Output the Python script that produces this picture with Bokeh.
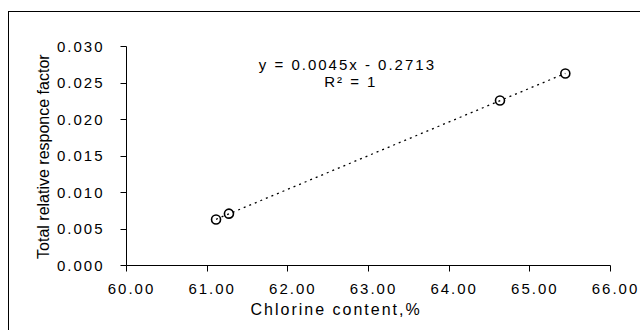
import numpy as np
from bokeh.plotting import figure
from bokeh.layouts import row
from bokeh.models import Range1d, Label, FixedTicker, NumeralTickFormatter, Title
from bokeh.embed import file_html
from bokeh.resources import INLINE

# data
chlorine = [61.11, 61.27, 64.63, 65.44]
response = [0.0063, 0.0071, 0.0226, 0.0263]
x_ticks = [60, 61, 62, 63, 64, 65, 66]
y_ticks = [0.000, 0.005, 0.010, 0.015, 0.020, 0.025, 0.030]
x_title = "Chlorine content,%"
y_title = "Total relative responce factor"
eq_text = "y = 0.0045x - 0.2713"
r2_text = "R² = 1"

FONT = "Liberation Sans"
FS = "15px"
H = 318
YW = 44

# main plot
W = 631 - YW
p = figure(width=W, height=H, output_backend="svg", toolbar_location=None,
           x_range=Range1d(60, 66), y_range=Range1d(0, 0.030),
           min_border_left=0, min_border_right=30, min_border_top=34, min_border_bottom=65)
p.styles = {"letter-spacing": "2px"}
p.outline_line_color = None
p.grid.visible = False
p.background_fill_color = "white"
p.border_fill_color = "white"

for ax in (p.xaxis[0], p.yaxis[0]):
    ax.major_label_text_font = FONT
    ax.major_label_text_font_size = FS
    ax.major_label_text_color = "black"
    ax.axis_line_color = "black"
    ax.major_tick_line_color = "black"
    ax.minor_tick_line_color = None
    ax.major_tick_in = 0
    ax.major_tick_out = 6
    ax.axis_line_width = 1

p.xaxis.ticker = FixedTicker(ticks=x_ticks)
p.yaxis.ticker = FixedTicker(ticks=y_ticks)
p.xaxis.formatter = NumeralTickFormatter(format="0.00")
p.yaxis.formatter = NumeralTickFormatter(format="0.000")
p.xaxis.major_label_standoff = 12
p.yaxis.major_label_standoff = 26

# trendline (linear fit over the data range)
k, b = np.polyfit(chlorine, response, 1)
tx = [min(chlorine), max(chlorine)]
ty = [k * v + b for v in tx]
p.line(tx, ty, line_color="black", line_width=1.3, line_dash="2 4")

p.scatter(chlorine, response, marker="circle", size=9, fill_color=None,
          line_color="black", line_width=1.6)

p.add_layout(Label(x=61.64, y=0.02753, text=eq_text, text_font=FONT, text_font_size=FS,
                   text_align="left", text_baseline="middle", text_color="black"))
p.add_layout(Label(x=62.45, y=0.02521, text=r2_text, text_font=FONT, text_font_size=FS,
                   text_align="left", text_baseline="middle", text_color="black"))

xt = Title(text=x_title, align="left", offset=124, vertical_align="top", standoff=8,
           text_font=FONT, text_font_size="16px", text_font_style="normal", text_color="black")
p.add_layout(xt, "below")

# y-axis title panel (normal letter spacing)
yf = figure(width=YW, height=H, output_backend="svg", toolbar_location=None,
            x_range=Range1d(0, 1), y_range=Range1d(0, 1),
            x_axis_location=None, y_axis_location=None,
            min_border_left=0, min_border_right=0, min_border_top=0, min_border_bottom=0)
yf.outline_line_color = None
yf.grid.visible = False
yf.background_fill_color = "white"
yf.border_fill_color = "white"
yf.add_layout(Label(x=0.78, y=0.497, text=y_title, text_font=FONT, text_font_size="16px",
                    text_align="center", text_baseline="middle", text_color="black",
                    angle=np.pi / 2))

layout = row(yf, p)
layout.styles = {"border-left": "1px solid black", "border-top": "1px solid black",
                 "margin-top": "11px", "margin-left": "8px"}

open("out.html", "w").write(file_html(layout, INLINE))
